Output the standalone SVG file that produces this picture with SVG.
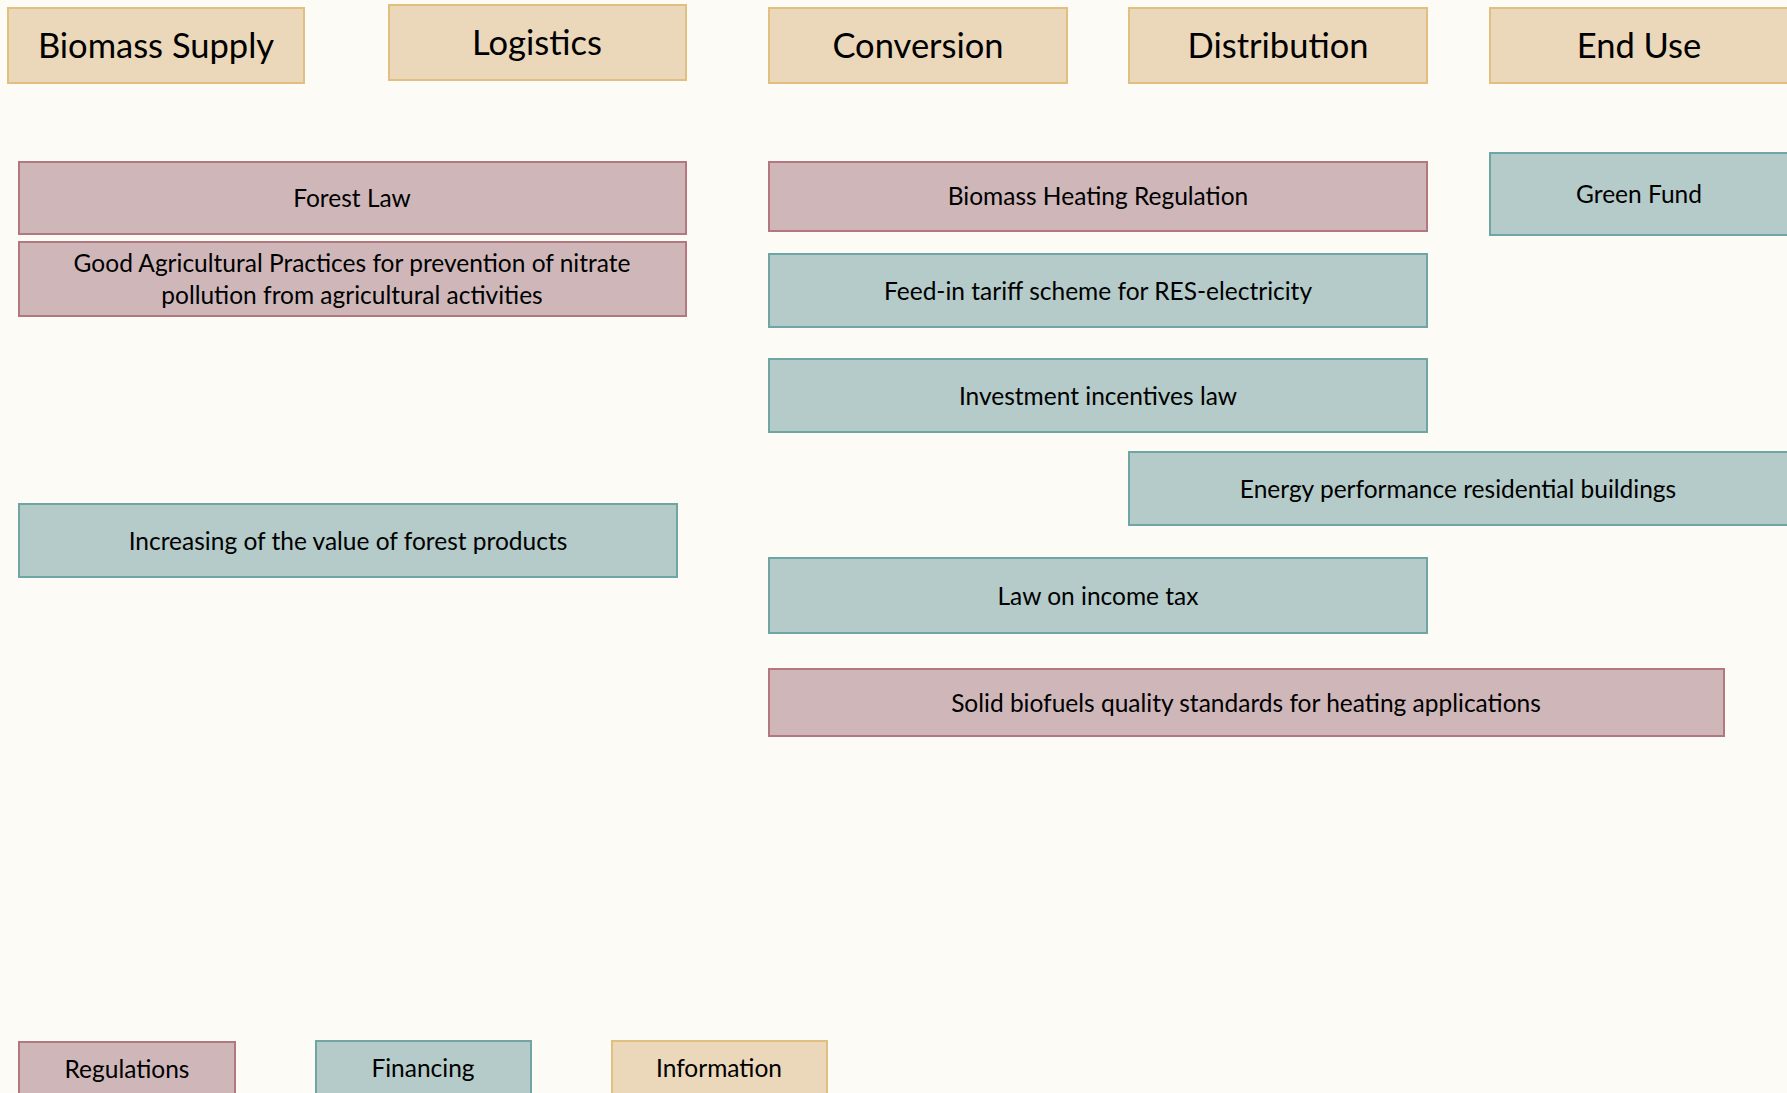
<svg xmlns="http://www.w3.org/2000/svg" width="1787" height="1093" viewBox="0 0 1787 1093">
<style>
.info{fill:#EBD7B9;stroke:#E0BF80;stroke-width:2}
.reg{fill:#CFB7B9;stroke:#B5777F;stroke-width:2}
.fin{fill:#B4CBC9;stroke:#6FA6A4;stroke-width:2}
text{font-family:Lato,"Open Sans","Liberation Sans",sans-serif;fill:#000;text-anchor:middle}
.h{font-size:34.5px}
.b{font-size:24.5px}
</style>
<rect width="1787" height="1093" fill="#FDFBF6"/>
<g id="biomass-supply"><rect class="info" x="8" y="8" width="296" height="75"/><text class="h" x="156" y="58">Biomass Supply</text></g>
<g id="logistics"><rect class="info" x="389" y="5" width="297" height="75"/><text class="h" x="537" y="55">Logistics</text></g>
<g id="conversion"><rect class="info" x="769" y="8" width="298" height="75"/><text class="h" x="918" y="58">Conversion</text></g>
<g id="distribution"><rect class="info" x="1129" y="8" width="298" height="75"/><text class="h" x="1278" y="58">Distribution</text></g>
<g id="end-use"><rect class="info" x="1490" y="8" width="298" height="75"/><text class="h" x="1639" y="58">End Use</text></g>

<g id="forest-law"><rect class="reg" x="19" y="162" width="667" height="72"/><text class="b" x="352" y="207">Forest Law</text></g>
<g id="good-agri"><rect class="reg" x="19" y="242" width="667" height="74"/><text class="b" x="352" y="272">Good Agricultural Practices for prevention of nitrate</text><text class="b" x="352" y="304">pollution from agricultural activities</text></g>
<g id="biomass-heating"><rect class="reg" x="769" y="162" width="658" height="69"/><text class="b" x="1098" y="205">Biomass Heating Regulation</text></g>
<g id="green-fund"><rect class="fin" x="1490" y="153" width="298" height="82"/><text class="b" x="1639" y="203">Green Fund</text></g>
<g id="feed-in"><rect class="fin" x="769" y="254" width="658" height="73"/><text class="b" x="1098" y="300">Feed-in tariff scheme for RES-electricity</text></g>
<g id="investment"><rect class="fin" x="769" y="359" width="658" height="73"/><text class="b" x="1098" y="405">Investment incentives law</text></g>
<g id="energy-perf"><rect class="fin" x="1129" y="452" width="659" height="73"/><text class="b" x="1458" y="498">Energy performance residential buildings</text></g>
<g id="forest-products"><rect class="fin" x="19" y="504" width="658" height="73"/><text class="b" x="348" y="550">Increasing of the value of forest products</text></g>
<g id="income-tax"><rect class="fin" x="769" y="558" width="658" height="75"/><text class="b" x="1098" y="605">Law on income tax</text></g>
<g id="solid-biofuels"><rect class="reg" x="769" y="669" width="955" height="67"/><text class="b" x="1246" y="712">Solid biofuels quality standards for heating applications</text></g>

<g id="legend-regulations"><rect class="reg" x="19" y="1042" width="216" height="60"/><text class="b" x="127" y="1078">Regulations</text></g>
<g id="legend-financing"><rect class="fin" x="316" y="1041" width="215" height="60"/><text class="b" x="423" y="1077">Financing</text></g>
<g id="legend-information"><rect class="info" x="612" y="1041" width="215" height="60"/><text class="b" x="719" y="1077">Information</text></g>
<g id="connectors"/>
</svg>
